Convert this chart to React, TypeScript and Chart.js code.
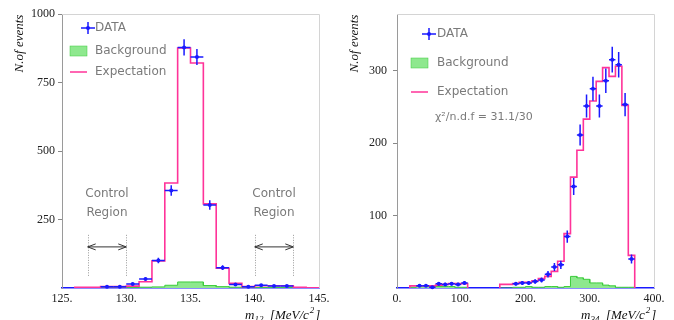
import React, { useEffect, useRef } from 'react';
import { Chart, registerables } from 'chart.js';
Chart.register(...registerables);

// ---------- LEFT PANEL (m12) ----------
const leftBinStart = 126;
const leftBinWidth = 1;
const leftExpectation = [3, 3, 5, 5, 7, 23, 99, 383, 876, 821, 307, 72, 17, 5, 8, 8, 8, 3, 1];
const leftBackground = [0, 0, 1, 1, 2, 3, 4, 10, 22, 22, 9, 5, 3, 2, 2, 2, 2, 1, 0];
const leftDataX = [128.5, 129.5, 130.5, 131.5, 132.5, 133.5, 134.5, 135.5, 136.5, 137.5, 138.5, 139.5, 140.5, 141.5, 142.5];
const leftDataY = [5, 5, 15, 33, 100, 356, 878, 843, 303, 74, 13, 5, 10, 7, 7];
const leftXTicks = [125, 130, 135, 140, 145];
const leftYTicks = [250, 500, 750, 1000];

// ---------- RIGHT PANEL (m34) ----------
const rightBinStart = 20;
const rightBinWidth = 10;
const rightExpectation = [3, 3, 3, 3, 4, 5, 6, 6, 6, null, null, null, null, null,
  5, 5, 6, 8, 8, 10, 13, 16, 23, 37, 75, 153, 190, 233, 258, 285, 304, 292, 306, 252, 45];
const rightBackground = [1, 2, 2, 2, 2, 2, 2, 1, 1, null, null, null, null, null,
  0, 0, 1, 1, 2, 1, 1, 2, 2, 1, 2, 16, 14, 12, 7, 7, 4, 3, 1, 1, 1];
const rightDataX = [35, 45, 55, 65, 75, 85, 95, 105, 185, 195, 205, 215, 225, 235, 245, 255, 265, 275, 285, 295, 305, 315, 325, 335, 345, 355, 365];
const rightDataY = [3, 3, 1, 6, 5, 6, 5, 7, 6, 7, 7, 9, 11, 19, 29, 32, 71, 140, 211, 251, 275, 251, 286, 315, 308, 253, 40];
const rightXTicks = [0, 100, 200, 300, 400];
const rightYTicks = [100, 200, 300];

const legendLabels = ['DATA', 'Background', 'Expectation'];
const chiText = 'χ²/n.d.f = 31.1/30';
const yTitle = 'N.of events';

const BLUE = '#1a1aff';
const MAGENTA = '#ff3399';
const GREEN_FILL = '#8ee88e';
const GREEN_LINE = '#3ccc3c';
const GRAY_TEXT = '#7a7a7a';
const SERIF = '"Liberation Serif", "DejaVu Serif", serif';
const SANS = '"DejaVu Sans", sans-serif';

function stepPoints(start: number, width: number, values: (number | null)[]) {
  const pts: { x: number; y: number | null }[] = [];
  let prev: number | null = null;
  values.forEach((v, i) => {
    const lo = start + i * width;
    const hi = lo + width;
    if (v === null) {
      if (prev !== null) {
        pts.push({ x: lo, y: 0 });
        pts.push({ x: lo, y: null });
      }
      prev = null;
      return;
    }
    if (prev === null) pts.push({ x: lo, y: 0 });
    pts.push({ x: lo, y: v }, { x: hi, y: v });
    prev = v;
  });
  if (prev !== null) pts.push({ x: start + values.length * width, y: 0 });
  return pts;
}

function drawCross(ctx: CanvasRenderingContext2D, cx: number, cy: number, x0: number, x1: number, y0: number, y1: number) {
  ctx.save();
  ctx.strokeStyle = BLUE;
  ctx.lineWidth = 1.5;
  ctx.beginPath();
  ctx.moveTo(x0, cy);
  ctx.lineTo(x1, cy);
  ctx.moveTo(cx, y0);
  ctx.lineTo(cx, y1);
  ctx.stroke();
  ctx.fillStyle = BLUE;
  ctx.beginPath();
  ctx.arc(cx, cy, 2, 0, Math.PI * 2);
  ctx.fill();
  ctx.restore();
}

const errorBarsPlugin = {
  id: 'errorBars',
  afterDatasetsDraw(chart: any) {
    const ctx = chart.ctx;
    const xs = chart.scales.x;
    const ys = chart.scales.y;
    chart.data.datasets.forEach((ds: any) => {
      if (!ds.binWidth) return;
      ds.data.forEach((p: any) => {
        const err = Math.sqrt(p.y);
        drawCross(
          ctx,
          xs.getPixelForValue(p.x),
          ys.getPixelForValue(p.y),
          xs.getPixelForValue(p.x - ds.binWidth / 2),
          xs.getPixelForValue(p.x + ds.binWidth / 2),
          ys.getPixelForValue(p.y + err),
          ys.getPixelForValue(Math.max(0, p.y - err))
        );
      });
    });
  },
};

function drawXTitle(ctx: CanvasRenderingContext2D, x: number, y: number, sub: string) {
  ctx.save();
  ctx.fillStyle = '#111';
  ctx.textBaseline = 'alphabetic';
  ctx.textAlign = 'left';
  const big = `italic 13px ${SERIF}`;
  const small = `italic 9px ${SERIF}`;
  ctx.font = big;
  ctx.fillText('m', x, y);
  x += ctx.measureText('m').width;
  ctx.font = small;
  ctx.fillText(sub, x, y + 3);
  x += ctx.measureText(sub).width;
  ctx.font = big;
  const s = '  [MeV/c';
  ctx.fillText(s, x, y);
  x += ctx.measureText(s).width;
  ctx.font = small;
  ctx.fillText('2', x + 1, y - 6);
  x += ctx.measureText('2').width + 2;
  ctx.font = big;
  ctx.fillText(']', x, y);
  ctx.restore();
}

function drawLegend(ctx: CanvasRenderingContext2D, lx: number, tx: number, y1: number, y2: number, y3: number) {
  ctx.save();
  drawCross(ctx, lx + 18, y1, lx + 11, lx + 25, y1 - 6, y1 + 6);
  ctx.fillStyle = GREEN_FILL;
  ctx.fillRect(lx, y2 - 5, 17, 10);
  ctx.strokeStyle = GREEN_LINE;
  ctx.lineWidth = 0.5;
  ctx.strokeRect(lx, y2 - 5, 17, 10);
  ctx.strokeStyle = MAGENTA;
  ctx.lineWidth = 1.5;
  ctx.beginPath();
  ctx.moveTo(lx, y3);
  ctx.lineTo(lx + 17, y3);
  ctx.stroke();
  ctx.fillStyle = GRAY_TEXT;
  ctx.font = `12px ${SANS}`;
  ctx.textBaseline = 'middle';
  ctx.textAlign = 'left';
  ctx.fillText(legendLabels[0], tx, y1);
  ctx.fillText(legendLabels[1], tx, y2);
  ctx.fillText(legendLabels[2], tx, y3);
  ctx.restore();
}

function decoPlugin(kind: 'left' | 'right') {
  return {
    id: 'deco_' + kind,
    afterDraw(chart: any) {
      const ctx: CanvasRenderingContext2D = chart.ctx;
      const a = chart.chartArea;
      const xs = chart.scales.x;
      const ys = chart.scales.y;
      ctx.save();
      ctx.strokeStyle = '#d4d4d4';
      ctx.lineWidth = 1;
      ctx.beginPath();
      ctx.moveTo(a.left, a.top + 0.5);
      ctx.lineTo(a.right + 0.5, a.top + 0.5);
      ctx.lineTo(a.right + 0.5, a.bottom);
      ctx.stroke();
      ctx.save();
      ctx.translate(kind === 'left' ? 20 : 18, 43.5);
      ctx.rotate(-Math.PI / 2);
      ctx.font = `italic 13px ${SERIF}`;
      ctx.fillStyle = '#111';
      ctx.textAlign = 'center';
      ctx.textBaseline = 'middle';
      ctx.fillText(yTitle, 0, 0);
      ctx.restore();
      drawXTitle(ctx, kind === 'left' ? 245 : 244, 318.5, kind === 'left' ? '12' : '34');

      if (kind === 'left') {
        drawLegend(ctx, 70, 95, 28, 51, 72);
        const regions = [[127, 130], [140, 143]];
        regions.forEach(([lo, hi]) => {
          const px0 = xs.getPixelForValue(lo);
          const px1 = xs.getPixelForValue(hi);
          const yTop = ys.getPixelForValue(194);
          const yBot = ys.getPixelForValue(40);
          const yArr = ys.getPixelForValue(150);
          ctx.strokeStyle = '#999';
          ctx.lineWidth = 1;
          ctx.setLineDash([1, 1.5]);
          ctx.beginPath();
          ctx.moveTo(Math.round(px0) + 0.5, yTop);
          ctx.lineTo(Math.round(px0) + 0.5, yBot);
          ctx.moveTo(Math.round(px1) + 0.5, yTop);
          ctx.lineTo(Math.round(px1) + 0.5, yBot);
          ctx.stroke();
          ctx.setLineDash([]);
          ctx.strokeStyle = '#333';
          ctx.lineWidth = 1;
          ctx.beginPath();
          ctx.moveTo(px0, yArr);
          ctx.lineTo(px1, yArr);
          ctx.moveTo(px0 + 8, yArr - 3);
          ctx.lineTo(px0, yArr);
          ctx.lineTo(px0 + 8, yArr + 3);
          ctx.moveTo(px1 - 8, yArr - 3);
          ctx.lineTo(px1, yArr);
          ctx.lineTo(px1 - 8, yArr + 3);
          ctx.stroke();
          const cx = xs.getPixelForValue((lo + hi) / 2);
          ctx.fillStyle = GRAY_TEXT;
          ctx.font = `12px ${SANS}`;
          ctx.textAlign = 'center';
          ctx.textBaseline = 'middle';
          ctx.fillText('Control', cx, ys.getPixelForValue(343));
          ctx.fillText('Region', cx, ys.getPixelForValue(274));
        });
      } else {
        drawLegend(ctx, 74, 100, 34, 63, 92);
        ctx.fillStyle = GRAY_TEXT;
        ctx.font = `11px ${SANS}`;
        ctx.textAlign = 'left';
        ctx.textBaseline = 'middle';
        ctx.fillText(chiText, 98, 117);
      }
      ctx.restore();
    },
  };
}

function makeConfig(kind: 'left' | 'right'): any {
  const isL = kind === 'left';
  const dataX = isL ? leftDataX : rightDataX;
  const dataY = isL ? leftDataY : rightDataY;
  const start = isL ? leftBinStart : rightBinStart;
  const width = isL ? leftBinWidth : rightBinWidth;
  const xTicks = isL ? leftXTicks : rightXTicks;
  const yTicks = isL ? leftYTicks : rightYTicks;
  const tickFont = { family: SERIF, size: 12 };
  return {
    type: 'line',
    data: {
      datasets: [
        {
          label: legendLabels[0],
          type: 'scatter',
          data: dataX.map((x, i) => ({ x, y: dataY[i] })),
          pointRadius: 0,
          showLine: false,
          binWidth: width,
          order: 0,
        },
        {
          label: legendLabels[2],
          data: stepPoints(start, width, isL ? leftExpectation : rightExpectation),
          borderColor: MAGENTA,
          borderWidth: 1.6,
          pointRadius: 0,
          fill: false,
          spanGaps: false,
          tension: 0,
          order: 1,
        },
        {
          label: legendLabels[1],
          data: stepPoints(start, width, isL ? leftBackground : rightBackground),
          borderColor: GREEN_LINE,
          backgroundColor: GREEN_FILL,
          borderWidth: 1,
          pointRadius: 0,
          fill: 'origin',
          spanGaps: false,
          tension: 0,
          order: 2,
        },
      ],
    },
    options: {
      animation: false,
      responsive: false,
      devicePixelRatio: 1,
      layout: { padding: { top: 14, right: isL ? 18 : 20, left: 0, bottom: 0 } },
      plugins: { legend: { display: false }, tooltip: { enabled: false } },
      scales: {
        x: {
          type: 'linear',
          min: xTicks[0],
          max: xTicks[xTicks.length - 1],
          afterFit: (s: any) => { s.height = 32; },
          afterBuildTicks: (s: any) => { s.ticks = xTicks.map((v) => ({ value: v })); },
          ticks: {
            callback: (v: any) => String(v) + '.',
            font: tickFont,
            color: '#222',
            padding: -4,
            maxRotation: 0,
            autoSkip: false,
          },
          grid: { display: false },
          border: { display: true, color: BLUE, width: 1.5 },
        },
        y: {
          min: 0,
          max: isL ? 1000 : 378,
          afterFit: (s: any) => { s.width = isL ? 62 : 60; },
          afterBuildTicks: (s: any) => { s.ticks = yTicks.map((v) => ({ value: v })); },
          ticks: {
            callback: (v: any) => String(v),
            font: tickFont,
            color: '#222',
            padding: isL ? 3 : 6,
            autoSkip: false,
          },
          grid: { drawOnChartArea: false, drawTicks: true, tickLength: 4, color: '#888' },
          border: { display: true, color: '#9a9a9a' },
        },
      },
    },
    plugins: [errorBarsPlugin, decoPlugin(kind)],
  };
}

function Panel({ kind, left }: { kind: 'left' | 'right'; left: number }) {
  const ref = useRef<HTMLCanvasElement>(null);
  useEffect(() => {
    if (!ref.current) return;
    const chart = new Chart(ref.current, makeConfig(kind));
    return () => chart.destroy();
  }, [kind]);
  return (
    <div style={{ position: 'absolute', left, top: 0, width: 337, height: 320 }}>
      <canvas ref={ref} width={337} height={320} style={{ width: 337, height: 320, display: 'block' }} />
    </div>
  );
}

export default function App() {
  return (
    <div style={{ position: 'absolute', left: 0, top: 0, width: 674, height: 320, background: '#fff', overflow: 'hidden' }}>
      <Panel kind="left" left={0} />
      <Panel kind="right" left={337} />
    </div>
  );
}
